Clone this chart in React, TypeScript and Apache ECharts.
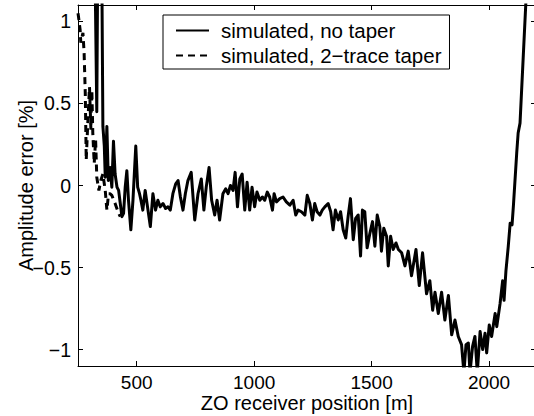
import React, { useEffect, useRef } from "react";
import * as echarts from "echarts";

// ZO receiver position [m] and amplitude error [%]
const positionsNoTaper = [
  320, 330, 335, 350, 356, 362, 366, 373, 379, 387, 394, 401, 408, 416, 423, 430, 437, 444, 451, 458,
  465, 475, 484, 496, 504, 512, 518, 526, 536, 548, 558, 569, 580, 590, 600, 612, 623, 633, 643, 654,
  666, 676, 686, 697, 707, 718, 732, 747, 761, 775, 786, 796, 808, 819, 832, 842, 853, 867, 879, 889,
  899, 910, 919, 929, 939, 949, 960, 970, 981, 991, 1002, 1012, 1024, 1035, 1045, 1056, 1066, 1078, 1085, 1095,
  1109, 1123, 1137, 1152, 1166, 1177, 1187, 1201, 1216, 1226, 1237, 1248, 1258, 1268, 1280, 1290, 1301, 1315, 1326, 1336,
  1346, 1358, 1368, 1379, 1390, 1400, 1410, 1422, 1432, 1443, 1453, 1461, 1471, 1481, 1493, 1504, 1514, 1524, 1535, 1542,
  1552, 1564, 1571, 1581, 1592, 1604, 1614, 1628, 1642, 1656, 1670, 1689, 1703, 1717, 1734, 1748, 1760, 1770, 1784, 1798,
  1812, 1827, 1841, 1855, 1869, 1883, 1893, 1902, 1912, 1919, 1930, 1940, 1950, 1962, 1973, 1983, 1990, 2001, 2011, 2026,
  2033, 2047, 2058, 2064, 2072, 2082, 2090, 2098, 2104, 2118, 2124, 2132, 2158, 2170,
];
const errorNoTaper = [
  1.6, 0.45, 1.6, 1.6, 0.36, 0.24, 0.05, 0.36, 0.03, 0.11, -0.01, 0.27, 0.07, -0.01, -0.03, -0.11, -0.19, -0.17, -0.01, 0.09,
  -0.09, -0.27, -0.09, 0.24, -0.01, -0.05, -0.09, -0.15, -0.03, -0.15, -0.25, -0.05, -0.15, -0.09, -0.13, -0.11, -0.14, -0.13, -0.15, -0.05,
  0.01, 0.03, -0.07, -0.15, -0.05, 0.03, 0.08, -0.21, -0.05, 0.04, -0.15, -0.01, 0.11, -0.09, -0.18, -0.09, -0.21, -0.05, -0.02, -0.05,
  0.0, -0.03, 0.08, -0.13, 0.04, 0.07, -0.15, 0.02, -0.15, -0.01, -0.13, -0.04, -0.09, -0.07, -0.09, -0.04, -0.07, -0.15, -0.05, -0.1,
  -0.08, -0.07, -0.1, -0.12, -0.09, -0.18, -0.15, -0.16, -0.18, -0.06, -0.11, -0.21, -0.11, -0.16, -0.18, -0.15, -0.13, -0.11, -0.16, -0.27,
  -0.15, -0.21, -0.16, -0.27, -0.32, -0.19, -0.08, -0.33, -0.2, -0.18, -0.43, -0.15, -0.16, -0.38, -0.29, -0.22, -0.37, -0.18, -0.25, -0.4,
  -0.26, -0.31, -0.49, -0.31, -0.39, -0.35, -0.39, -0.41, -0.49, -0.4, -0.55, -0.39, -0.61, -0.41, -0.66, -0.58, -0.76, -0.65, -0.78, -0.65,
  -0.82, -0.67, -0.91, -0.82, -0.92, -0.97, -1.14, -0.97, -0.96, -1.14, -0.98, -0.92, -1.14, -0.89, -1.0, -0.9, -1.02, -0.85, -0.92, -0.78,
  -0.86, -0.72, -0.58, -0.7, -0.52, -0.37, -0.23, -0.24, -0.12, 0.2, 0.32, 0.38, 1.15, 1.6,
];

const positionsTaper = [
  250, 252, 259, 262, 271, 276, 281, 285, 291, 299, 305, 309, 313, 319, 325, 330, 339, 347, 356, 366,
  373, 380, 387, 394, 408, 423, 430,
];
const errorTaper = [
  1.05, 1.03, 0.95, 0.87, 0.93, 0.81, 0.56, 0.155, 0.36, 0.6, 0.34, 0.58, 0.32, 0.135, 0.28, 0.05, -0.03, 0.03, 0.07, -0.03,
  -0.15, -0.05, -0.05, -0.06, -0.11, -0.17, -0.19,
];

const xTicks = [500, 1000, 1500, 2000];
const yTicks = [-1, -0.5, 0, 0.5, 1];

const FONT = "Liberation Sans, Arial, Helvetica, sans-serif";

export default function App() {
  const ref = useRef<HTMLDivElement>(null);
  useEffect(() => {
    if (!ref.current) return;
    const chart = echarts.init(ref.current, undefined, { renderer: "svg" });
    const fmtX = (v: number) => (xTicks.includes(v) ? String(v) : "");
    const fmtY = (v: number) => {
      const r = Math.round(v * 100) / 100;
      if (!yTicks.includes(r)) return "";
      return r < 0 ? "\u2212" + String(Math.abs(r)) : String(r);
    };
    const axisCommon = {
      axisLine: { show: true, onZero: false, lineStyle: { color: "#000", width: 1 } },
      axisTick: { show: true, inside: true, length: 5, lineStyle: { color: "#000", width: 1 } },
      splitLine: { show: false },
    };
    chart.setOption({
      animation: false,
      backgroundColor: "#fff",
      textStyle: { fontFamily: FONT },
      grid: {
        left: 78,
        top: 5,
        width: 458,
        height: 361,
        containLabel: false,
        outerBoundsMode: "none",
      },
      legend: {
        show: true,
        data: ["simulated, no taper", "simulated, 2\u2212trace taper"],
        orient: "vertical",
        left: 163,
        top: 15,
        itemWidth: 33,
        itemHeight: 14,
        itemGap: 4,
        padding: [5, 8, 3, 12],
        borderColor: "#000",
        borderWidth: 1,
        backgroundColor: "#fff",
        itemStyle: { color: "rgba(0,0,0,0)", borderWidth: 0, opacity: 0 },
        textStyle: {
          fontFamily: FONT,
          fontSize: 20.5,
          color: "#000",
          lineHeight: 20,
          padding: [0, 0, 0, 7],
        },
      },
      xAxis: [
        {
          type: "value",
          min: 250,
          max: 2200,
          splitNumber: 4,
          position: "bottom",
          ...axisCommon,
          axisLabel: {
            color: "#000",
            fontSize: 19,
            lineHeight: 19,
            fontFamily: FONT,
            margin: 7,
            formatter: fmtX,
          },
          name: "ZO receiver position [m]",
          nameLocation: "middle",
          nameGap: 27,
          nameMoveOverlap: false,
          nameTextStyle: { color: "#000", fontSize: 20, lineHeight: 20, fontFamily: FONT },
        },
        {
          type: "value",
          min: 250,
          max: 2200,
          splitNumber: 4,
          position: "top",
          ...axisCommon,
          axisLabel: { show: false },
        },
      ],
      yAxis: [
        {
          type: "value",
          min: -1.1,
          max: 1.1,
          splitNumber: 4,
          position: "left",
          ...axisCommon,
          axisLabel: {
            color: "#000",
            fontSize: 19.5,
            fontFamily: FONT,
            margin: 7,
            formatter: fmtY,
          },
          name: "Amplitude error [%]",
          nameLocation: "middle",
          nameGap: 42,
          nameMoveOverlap: false,
          nameTextStyle: { color: "#000", fontSize: 20, fontFamily: FONT },
        },
        {
          type: "value",
          min: -1.1,
          max: 1.1,
          splitNumber: 4,
          position: "right",
          ...axisCommon,
          axisLabel: { show: false },
        },
      ],
      series: [
        {
          name: "simulated, no taper",
          type: "line",
          data: positionsNoTaper.map((x, i) => [x, errorNoTaper[i]]),
          showSymbol: false,
          symbol: "none",
          clip: true,
          z: 3,
          lineStyle: { color: "#000", width: 3, join: "round" },
          itemStyle: { color: "#000" },
        },
        {
          name: "simulated, 2\u2212trace taper",
          type: "line",
          data: positionsTaper.map((x, i) => [x, errorTaper[i]]),
          showSymbol: false,
          symbol: "none",
          clip: true,
          z: 2,
          lineStyle: { color: "#000", width: 3, type: [7, 5] },
          itemStyle: { color: "#000" },
        },
      ],
    });
    return () => chart.dispose();
  }, []);
  return (
    <div
      ref={ref}
      style={{ position: "absolute", left: 0, top: 0, width: 534, height: 416, background: "#fff" }}
    />
  );
}
